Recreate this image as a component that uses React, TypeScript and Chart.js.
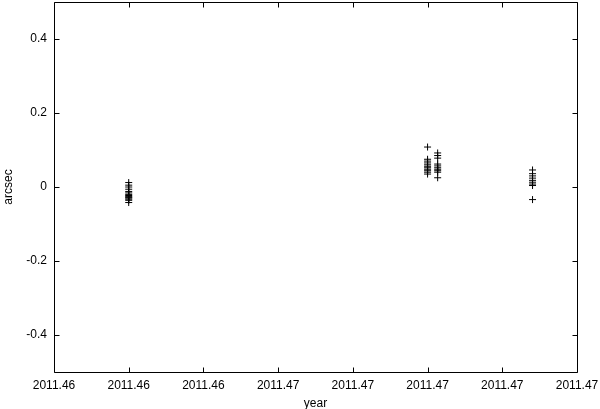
import React, { useEffect, useRef } from "react";
import { Chart, registerables } from "chart.js";

Chart.register(...registerables);

// Tick positions and their printed labels (gnuplot rounds to 2 decimals)
const xTickValues = [2011.459, 2011.461, 2011.463, 2011.465, 2011.467, 2011.469, 2011.471, 2011.473];
const xTickLabels = ["2011.46", "2011.46", "2011.46", "2011.47", "2011.47", "2011.47", "2011.47", "2011.47"];
const yTickValues = [-0.4, -0.2, 0, 0.2, 0.4];
const yTickLabels = ["-0.4", "-0.2", "0", "0.2", "0.4"];

// Epochs (year) of each observation group
const epochA = 2011.461;
const epochB1 = 2011.469;
const epochB2 = 2011.46927;
const epochC = 2011.47181;

// Offsets (arcsec) per group
const groupA = [0.012, 0.005, 0.0, -0.006, -0.012, -0.016, -0.02, -0.023, -0.026, -0.028, -0.03, -0.033, -0.036, -0.042];
const groupB1 = [0.108, 0.075, 0.07, 0.065, 0.06, 0.056, 0.052, 0.048, 0.044, 0.04, 0.035];
const groupB2 = [0.092, 0.085, 0.078, 0.062, 0.057, 0.052, 0.048, 0.044, 0.04, 0.025];
const groupC = [0.046, 0.036, 0.03, 0.024, 0.018, 0.013, 0.008, 0.004, -0.034];

const toPoints = (x: number, ys: number[]) => ys.map((y) => ({ x, y }));

const boxPlugin = {
  id: "gnuplotBox",
  afterDraw(chart: any) {
    const { ctx, chartArea } = chart;
    const { left, right, top, bottom } = chartArea;
    const L = Math.round(left) + 0.5;
    const R = Math.round(right) + 0.5;
    const T = Math.round(top) + 0.5;
    const B = Math.round(bottom) + 0.5;
    ctx.save();
    ctx.strokeStyle = "#000";
    ctx.lineWidth = 1;
    ctx.beginPath();
    ctx.rect(L, T, R - L, B - T);
    ctx.stroke();
    const tl = 5;
    const xs = chart.scales.x;
    const ys = chart.scales.y;
    ctx.beginPath();
    xs.ticks.forEach((_t: any, i: number) => {
      const px = Math.round(xs.getPixelForTick(i)) + 0.5;
      ctx.moveTo(px, B);
      ctx.lineTo(px, B - tl);
      ctx.moveTo(px, T);
      ctx.lineTo(px, T + tl);
    });
    ys.ticks.forEach((_t: any, i: number) => {
      const py = Math.round(ys.getPixelForTick(i)) + 0.5;
      ctx.moveTo(L, py);
      ctx.lineTo(L + tl, py);
      ctx.moveTo(R, py);
      ctx.lineTo(R - tl, py);
    });
    ctx.stroke();
    ctx.restore();
  },
};

export default function App() {
  const canvasRef = useRef<HTMLCanvasElement | null>(null);

  useEffect(() => {
    document.body.style.margin = "0";
    const canvas = canvasRef.current;
    if (!canvas) return;
    const font = { family: "'Liberation Sans', Arial, sans-serif", size: 12 };
    const ds = (data: { x: number; y: number }[]) => ({
      data,
      showLine: false,
      pointStyle: "cross" as const,
      pointRadius: 3.5,
      pointBorderColor: "#000",
      pointBackgroundColor: "#000",
      pointBorderWidth: 1,
      borderColor: "#000",
    });
    const chart = new Chart(canvas, {
      type: "scatter",
      data: {
        datasets: [
          ds(toPoints(epochA, groupA)),
          ds(toPoints(epochB1, groupB1)),
          ds(toPoints(epochB2, groupB2)),
          ds(toPoints(epochC, groupC)),
        ],
      },
      plugins: [boxPlugin],
      options: {
        animation: false,
        responsive: false,
        devicePixelRatio: 1,
        layout: { autoPadding: false, padding: { top: 2, right: 23, bottom: 0, left: 0 } },
        plugins: { legend: { display: false }, tooltip: { enabled: false } },
        scales: {
          x: {
            type: "linear",
            min: xTickValues[0],
            max: xTickValues[xTickValues.length - 1],
            afterBuildTicks: (scale: any) => {
              scale.ticks = xTickValues.map((v) => ({ value: v }));
            },
            afterFit: (scale: any) => {
              scale.height = 37;
              scale.paddingLeft = 0;
              scale.paddingRight = 0;
            },
            grid: { display: false, drawTicks: false },
            border: { display: false },
            ticks: {
              autoSkip: false,
              maxRotation: 0,
              padding: 6,
              color: "#000",
              font,
              callback: (_v: any, i: number) => xTickLabels[i],
            },
            title: { display: true, text: "year", color: "#000", font, padding: { top: 0, bottom: -2 } },
          },
          y: {
            type: "linear",
            min: -0.5,
            max: 0.5,
            afterBuildTicks: (scale: any) => {
              scale.ticks = yTickValues.map((v) => ({ value: v }));
            },
            afterFit: (scale: any) => {
              scale.width = 54;
              scale.paddingTop = 0;
              scale.paddingBottom = 0;
            },
            grid: { display: false, drawTicks: false },
            border: { display: false },
            ticks: {
              autoSkip: false,
              padding: 7,
              color: "#000",
              font,
              callback: (_v: any, i: number) => yTickLabels[i],
            },
            title: { display: true, text: "arcsec", color: "#000", font, padding: { top: 1, bottom: 0 } },
          },
        },
      },
    });
    return () => chart.destroy();
  }, []);

  return (
    <div style={{ position: "relative", width: 600, height: 409, background: "#fff" }}>
      <canvas ref={canvasRef} width={600} height={409} />
    </div>
  );
}
